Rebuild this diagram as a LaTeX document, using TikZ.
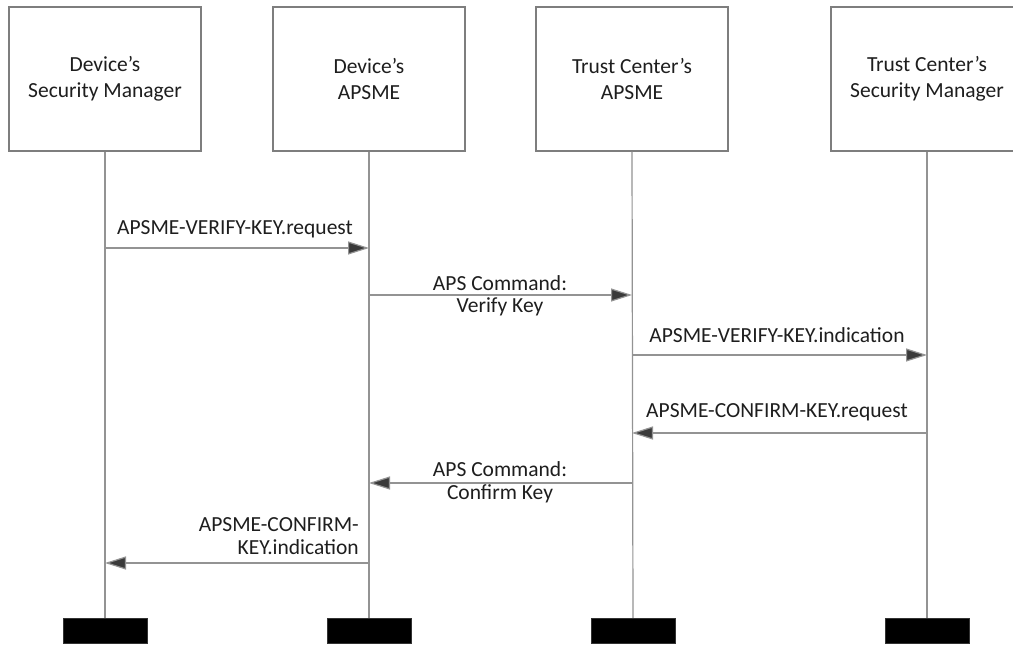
\documentclass[tikz,border=0pt]{standalone}
\usepackage{fontspec}
\setmainfont{Carlito}
\usetikzlibrary{arrows.meta}
\definecolor{txt}{HTML}{1E1E1E}
\definecolor{linec}{HTML}{939393}
\definecolor{boxc}{HTML}{7E7E7E}
\definecolor{tipc}{HTML}{3A3A3A}
\tikzset{
  actor/.style={draw=boxc, line width=1.2pt, fill=white, minimum width=192pt, minimum height=144pt,
    align=center, font=\fontsize{21.5}{26}\selectfont, text=txt, inner sep=0pt},
  endbar/.style={fill=black, draw=black!80, minimum width=84pt, minimum height=25pt, inner sep=0pt},
  life/.style={draw=linec, line width=1.2pt},
  msg/.style={draw=linec, line width=1.2pt, -{Triangle[length=21pt,width=13pt,fill=tipc]}},
  lbl/.style={font=\fontsize{21.5}{23}\selectfont, text=txt, inner sep=0pt, align=center},
}
\begin{document}
\begin{tikzpicture}[x=1pt,y=-1pt]
\clip (0,0) rectangle (1013,645);
\fill[white] (0,0) rectangle (1013,645);
% actors
\node[actor] (b1) at (105,79) {Device’s\\Security Manager};
\node[actor] (b2) at (369,79) {Device’s\\APSME};
\node[actor] (b3) at (632,79) {Trust Center’s\\APSME};
\node[actor] (b4) at (927,79) {Trust Center’s\\Security Manager};
% end bars
\node[endbar] (e1) at (105,630.5) {};
\node[endbar] (e2) at (369,630.5) {};
\node[endbar] (e3) at (633,630.5) {};
\node[endbar] (e4) at (927,630.5) {};
% lifelines
\draw[life] (b1.south) -- (e1.north);
\draw[life] (b2.south) -- (e2.north);
\draw[life] (b3.south) -- (e3.north);
\draw[life] (b4.south) -- (e4.north);
% message end points
\coordinate (m1s) at (105,248); \coordinate (m1e) at (369,248);
\coordinate (m2s) at (369,295); \coordinate (m2e) at (632,295);
\coordinate (m3s) at (632,355); \coordinate (m3e) at (927,355);
\coordinate (m4s) at (927,433); \coordinate (m4e) at (632,433);
\coordinate (m5s) at (632,483); \coordinate (m5e) at (369,483);
\coordinate (m6s) at (369,563); \coordinate (m6e) at (105,563);
% messages
\draw[msg] (m1s) -- (m1e);
\draw[msg] (m2s) -- (m2e);
\draw[msg] (m3s) -- (m3e);
\draw[msg] (m4s) -- (m4e);
\draw[msg] (m5s) -- (m5e);
\draw[msg] (m6s) -- (m6e);
% labels
\node[lbl] (l1) at (235,229) {APSME-VERIFY-KEY.request};
\node[lbl] (l2a) at (500,283) {APS Command:};
\node[lbl] (l2b) at (500,307) {Verify Key};
\node[lbl] (l3) at (777,335) {APSME-VERIFY-KEY.indication};
\node[lbl] (l4) at (777,412) {APSME-CONFIRM-KEY.request};
\node[lbl] (l5a) at (500,469) {APS Command:};
\node[lbl] (l5b) at (500,494) {Confirm Key};
\node[lbl, anchor=east] (l6a) at (359,525) {APSME-CONFIRM-};
\node[lbl, anchor=east] (l6b) at (359,547) {KEY.indication};
\end{tikzpicture}
\end{document}
